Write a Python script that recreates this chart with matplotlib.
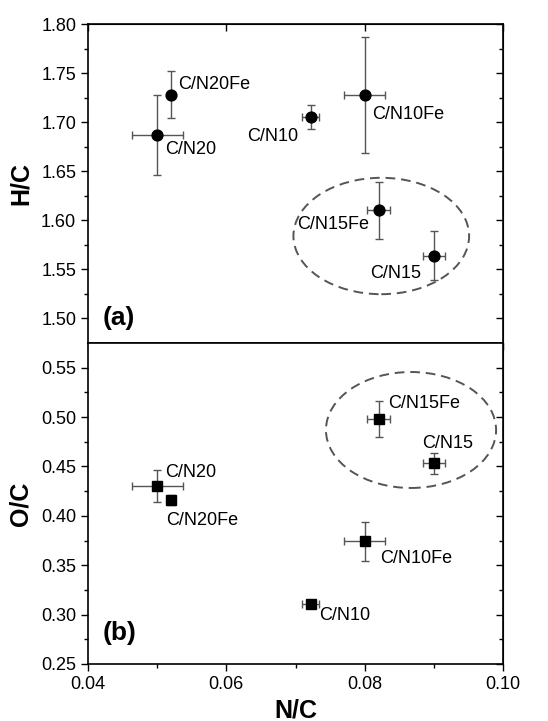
import numpy as np
import matplotlib.pyplot as plt
from matplotlib.patches import Ellipse

plt.rcParams['font.family'] = ['Liberation Sans', 'DejaVu Sans']

samples = ['C/N20', 'C/N20Fe', 'C/N10', 'C/N10Fe', 'C/N15Fe', 'C/N15']
nc = [0.050, 0.052, 0.0722, 0.080, 0.082, 0.090]
nc_err = [0.0037, 0.0005, 0.0012, 0.0030, 0.0016, 0.0016]

hc = [1.687, 1.728, 1.705, 1.728, 1.610, 1.564]
hc_err = [0.041, 0.024, 0.012, 0.059, 0.029, 0.025]

oc = [0.430, 0.416, 0.311, 0.374, 0.498, 0.453]
oc_err = [0.016, 0.005, 0.003, 0.020, 0.018, 0.011]

# label offsets in pixels (dx, dy, ha)
hc_offsets = [(8, -15, 'left'), (7, 10, 'left'), (-12, -19, 'right'),
              (7, -20, 'left'), (-9, -14, 'right'), (-13, -18, 'right')]
oc_offsets = [(8, 14, 'left'), (-5, -20, 'left'), (8, -12, 'left'),
              (15, -17, 'left'), (10, 16, 'left'), (14, 20, 'center')]

gray = '#555555'


def style_axes(ax, show_xlabels, top_ticks):
    ax.set_xlim(0.04, 0.10)
    ax.set_xticks(np.arange(0.04, 0.1001, 0.02))
    ax.set_xticks(np.arange(0.05, 0.1, 0.02), minor=True)
    ax.tick_params(axis='x', which='major', direction='out', length=5, width=1,
                   labelsize=13, labelbottom=show_xlabels)
    ax.tick_params(axis='x', which='minor', direction='out', length=3, width=1)
    ax.tick_params(axis='y', which='major', direction='out', length=5, width=1,
                   labelsize=13)
    ax.tick_params(axis='y', which='minor', direction='out', length=3, width=1)
    for s in ax.spines.values():
        s.set_linewidth(1.2)
    # right axis with inward ticks
    r = ax.secondary_yaxis('right')
    r.set_yticks(ax.get_yticks())
    r.set_yticks(ax.get_yticks(minor=True), minor=True)
    r.tick_params(axis='y', which='major', direction='in', length=5, width=1, labelright=False)
    r.tick_params(axis='y', which='minor', direction='in', length=3, width=1)
    if top_ticks:
        t = ax.secondary_xaxis('top')
        t.set_xticks(np.arange(0.04, 0.1001, 0.02))
        t.tick_params(axis='x', which='major', direction='in', length=5, width=1, labeltop=False)


fig = plt.figure(figsize=(5.48, 7.21), dpi=100)
ax1 = fig.add_axes([0.1606, 0.5243, 0.7573, 0.4424])
ax2 = fig.add_axes([0.1606, 0.0791, 0.7573, 0.4452])

# (a) H/C
ax1.errorbar(nc, hc, xerr=nc_err, yerr=hc_err, fmt='o', color='black', ms=7.8,
             ecolor=gray, elinewidth=1, capsize=3, capthick=1)
for name, x, y, (dx, dy, ha) in zip(samples, nc, hc, hc_offsets):
    ax1.annotate(name, (x, y), xytext=(dx, dy), textcoords='offset pixels',
                 ha=ha, va='center', fontsize=13)
ax1.add_patch(Ellipse((0.0824, 1.584), 0.0254, 0.1186, fill=False, ec=gray,
                      lw=1.4, ls=(0, (5, 3))))
ax1.set_ylim(1.475, 1.80)
ax1.set_yticks(np.arange(1.50, 1.801, 0.05))
ax1.set_yticks(np.arange(1.525, 1.80, 0.05), minor=True)
ax1.set_ylabel('H/C', fontsize=18, fontweight='bold', labelpad=6)
ax1.text(0.035, 0.04, '(a)', transform=ax1.transAxes, fontsize=19,
         fontweight='bold', ha='left', va='bottom')
style_axes(ax1, False, True)

# (b) O/C
ax2.errorbar(nc, oc, xerr=nc_err, yerr=oc_err, fmt='s', color='black', ms=7,
             ecolor=gray, elinewidth=1, capsize=3, capthick=1)
for name, x, y, (dx, dy, ha) in zip(samples, nc, oc, oc_offsets):
    ax2.annotate(name, (x, y), xytext=(dx, dy), textcoords='offset pixels',
                 ha=ha, va='center', fontsize=13)
ax2.add_patch(Ellipse((0.0867, 0.4869), 0.0246, 0.1174, fill=False, ec=gray,
                      lw=1.4, ls=(0, (5, 3))))
ax2.set_ylim(0.25, 0.575)
ax2.set_yticks(np.arange(0.25, 0.551, 0.05))
ax2.set_yticks(np.arange(0.275, 0.575, 0.05), minor=True)
ax2.set_yticklabels([f'{v:.2f}' for v in np.arange(0.25, 0.551, 0.05)])
ax2.set_ylabel('O/C', fontsize=18, fontweight='bold', labelpad=6)
ax2.set_xlabel('N/C', fontsize=18, fontweight='bold', labelpad=4)
ax2.text(0.035, 0.06, '(b)', transform=ax2.transAxes, fontsize=19,
         fontweight='bold', ha='left', va='bottom')
style_axes(ax2, True, False)
ax2.set_xticklabels(['0.04', '0.06', '0.08', '0.10'])

fig.savefig('out.png', dpi=100)
